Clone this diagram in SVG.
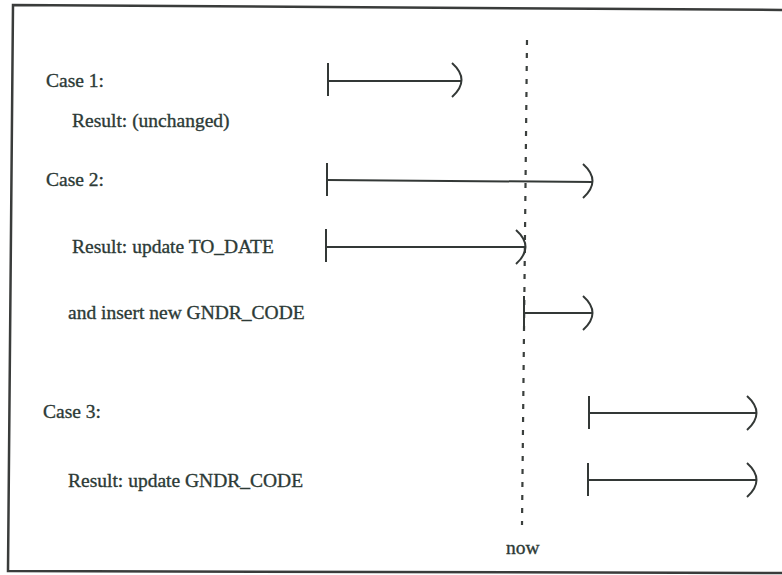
<svg xmlns="http://www.w3.org/2000/svg" width="782" height="575" viewBox="0 0 782 575">
<style>
  text { font-family: 'Liberation Serif', 'Times New Roman', Times, serif; font-size: 19.5px; fill: #2c3a36; stroke: #2c3a36; stroke-width: 0.35; }
  .ln { stroke: #333836; stroke-width: 2; fill: none; }
  .dot { stroke: #3a3f3d; stroke-width: 2.2; stroke-dasharray: 5 8; fill: none; }
  .frame { stroke: #3a3c3b; stroke-width: 2.5; fill: none; }
</style>
<defs>
  <path id="tick" d="M0,-17 V16" class="ln"/>
  <path id="paren" d="M-10,-17 Q9,0 -10,17" class="ln"/>
</defs>
<rect width="782" height="575" fill="#ffffff"/>
<path class="frame" d="M790,10 L13,5 L8,571 L790,573"/>

<g id="labels" font-family="Liberation Serif, serif">
  <text x="46" y="87">Case 1:</text>
  <text x="72" y="127">Result: (unchanged)</text>
  <text x="46" y="186">Case 2:</text>
  <text x="72" y="253">Result: update TO_DATE</text>
  <text x="68" y="319">and insert new GNDR_CODE</text>
  <text x="43" y="418">Case 3:</text>
  <text x="68" y="487">Result: update GNDR_CODE</text>
</g>

<g id="now">
  <path class="dot" d="M527,40 L522,525"/>
  <text x="506" y="554">now</text>
</g>

<g id="connectors">
  <g id="case1">
    <path class="ln" d="M328,81 H462"/>
    <use href="#tick" x="328" y="80"/>
    <use href="#paren" x="462" y="80"/>
  </g>
  <g id="case2">
    <path class="ln" d="M327,180 L593,182"/>
    <use href="#tick" x="327" y="180"/>
    <use href="#paren" x="593" y="181"/>
  </g>
  <g id="result2a">
    <path class="ln" d="M326,247 H526"/>
    <use href="#tick" x="326" y="246"/>
    <use href="#paren" x="526" y="247"/>
  </g>
  <g id="result2b">
    <path class="ln" d="M524,313 H593"/>
    <use href="#tick" x="524" y="313"/>
    <use href="#paren" x="593" y="313"/>
  </g>
  <g id="case3">
    <path class="ln" d="M589,413 H757"/>
    <use href="#tick" x="589" y="413"/>
    <use href="#paren" x="757" y="413"/>
  </g>
  <g id="result3">
    <path class="ln" d="M588,480 H757"/>
    <use href="#tick" x="588" y="480"/>
    <use href="#paren" x="757" y="480"/>
  </g>
</g>
</svg>
